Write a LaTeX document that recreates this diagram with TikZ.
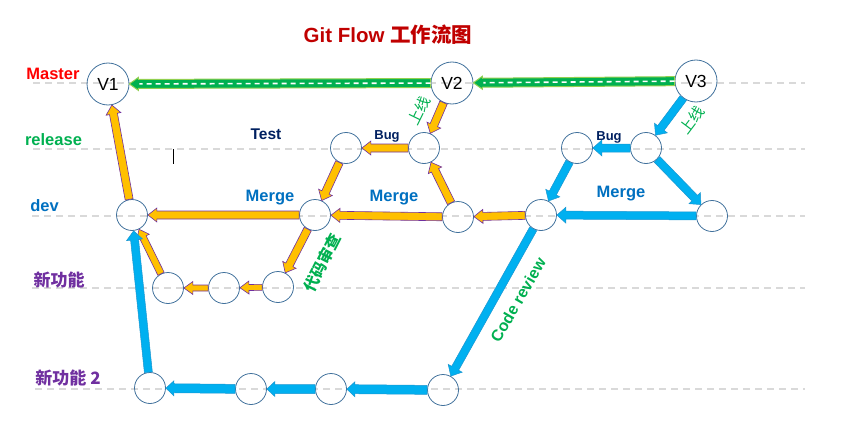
\documentclass[tikz,border=0pt]{standalone}
\usepackage{fontspec}
\setmainfont{Liberation Sans}
\newfontfamily\cjk{Noto Sans CJK SC}
\usetikzlibrary{calc}
\definecolor{lanegray}{HTML}{D9D9D9}
\definecolor{nodeblue}{HTML}{41719C}
\definecolor{orangef}{HTML}{FFC000}
\definecolor{purpl}{HTML}{7030A0}
\definecolor{bluef}{HTML}{00B0F0}
\definecolor{blued}{HTML}{1C96D0}
\definecolor{greenf}{HTML}{00B050}
\definecolor{greenl}{HTML}{92D050}
\definecolor{devblue}{HTML}{0070C0}
\definecolor{navy}{HTML}{002060}
\definecolor{titlered}{HTML}{C00000}
\newcommand\barrow[6]{%
  \path (#2) -- coordinate[pos=0] (bsX) coordinate[pos=1] (btX) (#3);
  \filldraw[#1] let \p1=(bsX), \p2=(btX), \n1={atan2(\y2-\y1,\x2-\x1)} in
    ($(bsX)+(\n1+90:#4)$) -- ($(btX)+(\n1+180:#6)+(\n1+90:#4)$) --
    ($(btX)+(\n1+180:#6)+(\n1+90:#5)$) -- (btX) --
    ($(btX)+(\n1+180:#6)+(\n1-90:#5)$) -- ($(btX)+(\n1+180:#6)+(\n1-90:#4)$) --
    ($(bsX)+(\n1-90:#4)$) -- cycle;
}
\tikzset{
  lane/.style={lanegray, line width=2pt, dash pattern=on 7pt off 5pt},
  circ/.style={circle, draw=nodeblue, line width=0.8pt, minimum size=31pt, inner sep=0pt},
  big/.style={circ, minimum size=42pt, font=\fontsize{17.5}{19}\selectfont},
  orarr/.style={fill=orangef, draw=purpl, line width=0.6pt, line join=miter},
  blarr/.style={fill=bluef, draw=blued, line width=0.5pt, line join=miter},
  grarr/.style={fill=greenf, draw=greenl, line width=1pt, line join=miter},
  lanelbl/.style={font=\bfseries\fontsize{16.5}{18}\selectfont},
  cjklbl/.style={font=\cjk\bfseries\fontsize{17}{19}\selectfont, text=purpl},
  mergelbl/.style={font=\bfseries\fontsize{16.5}{18}\selectfont, text=devblue},
  buglbl/.style={font=\bfseries\fontsize{13}{15}\selectfont, text=navy},
  greentxt/.style={text=greenf, inner sep=0pt}
}
\begin{document}
\begin{tikzpicture}[x=1pt, y=-1pt]
\useasboundingbox (0,0) rectangle (843,428);
% lanes
\coordinate (mL) at (33,83);  \coordinate (mR) at (805,83);
\coordinate (rL) at (33,149); \coordinate (rR) at (805,149);
\coordinate (dL) at (32,216); \coordinate (dR) at (805,216);
\coordinate (fL) at (32,288); \coordinate (fR) at (805,288);
\coordinate (gL) at (35,389); \coordinate (gR) at (805,389);
\draw[lane] (mL) -- (mR);
\draw[lane] (rL) -- (rR);
\draw[lane] (dL) -- (dR);
\draw[lane] (fL) -- (fR);
\draw[lane] (gL) -- (gR);
% nodes
\node[big] (V1) at (108,84) {V1};
\node[big] (V2) at (452,83) {V2};
\node[big] (V3) at (696,81) {V3};
\node[circ] (r1) at (346,148) {};
\node[circ] (r2) at (424,148) {};
\node[circ] (r3) at (577,148) {};
\node[circ] (r4) at (646,148) {};
\node[circ] (d1) at (132,215) {};
\node[circ] (d2) at (315,215) {};
\node[circ] (d3) at (458,217) {};
\node[circ] (d4) at (541,215) {};
\node[circ] (d5) at (712,216) {};
\node[circ] (f1) at (168,288) {};
\node[circ] (f2) at (224,288) {};
\node[circ] (f3) at (278,287) {};
\node[circ] (g1) at (150,388) {};
\node[circ] (g2) at (251,389) {};
\node[circ] (g3) at (331,389) {};
\node[circ] (g4) at (443,390) {};
% green master arrows
\barrow{grarr}{V2}{V1}{4.5pt}{6.5pt}{9pt}
\draw[white, line width=1.6pt, dash pattern=on 5pt off 4pt] (bsX) -- ($(btX)!10pt!(bsX)$);
\barrow{grarr}{V3}{V2}{4.5pt}{6.5pt}{9pt}
\draw[white, line width=1.6pt, dash pattern=on 5pt off 4pt] (bsX) -- ($(btX)!10pt!(bsX)$);
% orange arrows
\barrow{orarr}{d1}{V1}{4pt}{7.5pt}{9pt}
\barrow{orarr}{d2}{d1}{4pt}{7pt}{9pt}
\barrow{orarr}{d3}{d2}{4pt}{7pt}{9pt}
\barrow{orarr}{d4}{d3}{4pt}{7pt}{9pt}
\barrow{orarr}{d3}{r2}{4pt}{7.5pt}{9pt}
\barrow{orarr}{r2}{r1}{4pt}{7pt}{9pt}
\barrow{orarr}{r1}{d2}{4pt}{7.5pt}{9pt}
\barrow{orarr}{V2}{r2}{4pt}{7.5pt}{9pt}
\barrow{orarr}{d2}{f3}{4pt}{7.5pt}{9pt}
\barrow{orarr}{f3}{f2}{3pt}{6.5pt}{9pt}
\barrow{orarr}{f2}{f1}{3pt}{6.5pt}{9pt}
\barrow{orarr}{f1}{d1}{3.5pt}{7pt}{9pt}
% blue arrows
\barrow{blarr}{V3}{r4}{4pt}{8pt}{9pt}
\barrow{blarr}{r4}{r3}{4pt}{8pt}{9pt}
\barrow{blarr}{r3}{d4}{4pt}{8pt}{9pt}
\barrow{blarr}{r4}{d5}{4pt}{8pt}{9pt}
\barrow{blarr}{d5}{d4}{4pt}{8pt}{9pt}
\barrow{blarr}{d4}{g4}{4pt}{8pt}{9pt}
\barrow{blarr}{g4}{g3}{4.5pt}{7.5pt}{8pt}
\barrow{blarr}{g3}{g2}{4.5pt}{7.5pt}{8pt}
\barrow{blarr}{g2}{g1}{4.5pt}{7.5pt}{8pt}
\barrow{blarr}{g1}{d1}{4pt}{8pt}{9pt}
% texts
\node[font=\bfseries\fontsize{20.5}{24}\selectfont, text=titlered] (title) at (388,35) {Git Flow {\cjk 工作流图}};
\node[lanelbl, text=red] (tmaster) at (53,74) {Master};
\node[lanelbl, text=greenf] (trelease) at (53.5,140) {release};
\node[lanelbl, text=devblue] (tdev) at (44.5,206) {dev};
\node[cjklbl] (tfeat) at (59,280) {新功能};
\node[cjklbl] (tfeat2) at (68,378) {新功能 2};
\node[font=\bfseries\fontsize{15.5}{17}\selectfont, text=navy] (ttest) at (266,134) {Test};
\node[mergelbl] (tm1) at (270,198) {Merge};
\node[mergelbl] (tm2) at (394,198) {Merge};
\node[mergelbl] (tm3) at (621,194) {Merge};
\node[buglbl] (tb1) at (387,136) {Bug};
\node[buglbl] (tb2) at (609,137) {Bug};
\node[greentxt, font=\cjk\fontsize{15}{16}\selectfont, rotate=64] (tup1) at (419,111) {上线};
\node[greentxt, font=\cjk\fontsize{15}{16}\selectfont, rotate=53] (tup2) at (692,120) {上线};
\node[greentxt, font=\cjk\bfseries\fontsize{15.5}{17}\selectfont, rotate=63] (tcr) at (322,263) {代码审查};
\node[greentxt, font=\bfseries\fontsize{16}{18}\selectfont, rotate=60] (tcode) at (518,300) {Code review};
% text cursor mark
\coordinate (cur1) at (173,149); \coordinate (cur2) at (173,164);
\draw[black, line width=0.8pt] (cur1) -- (cur2);
\end{tikzpicture}
\end{document}
